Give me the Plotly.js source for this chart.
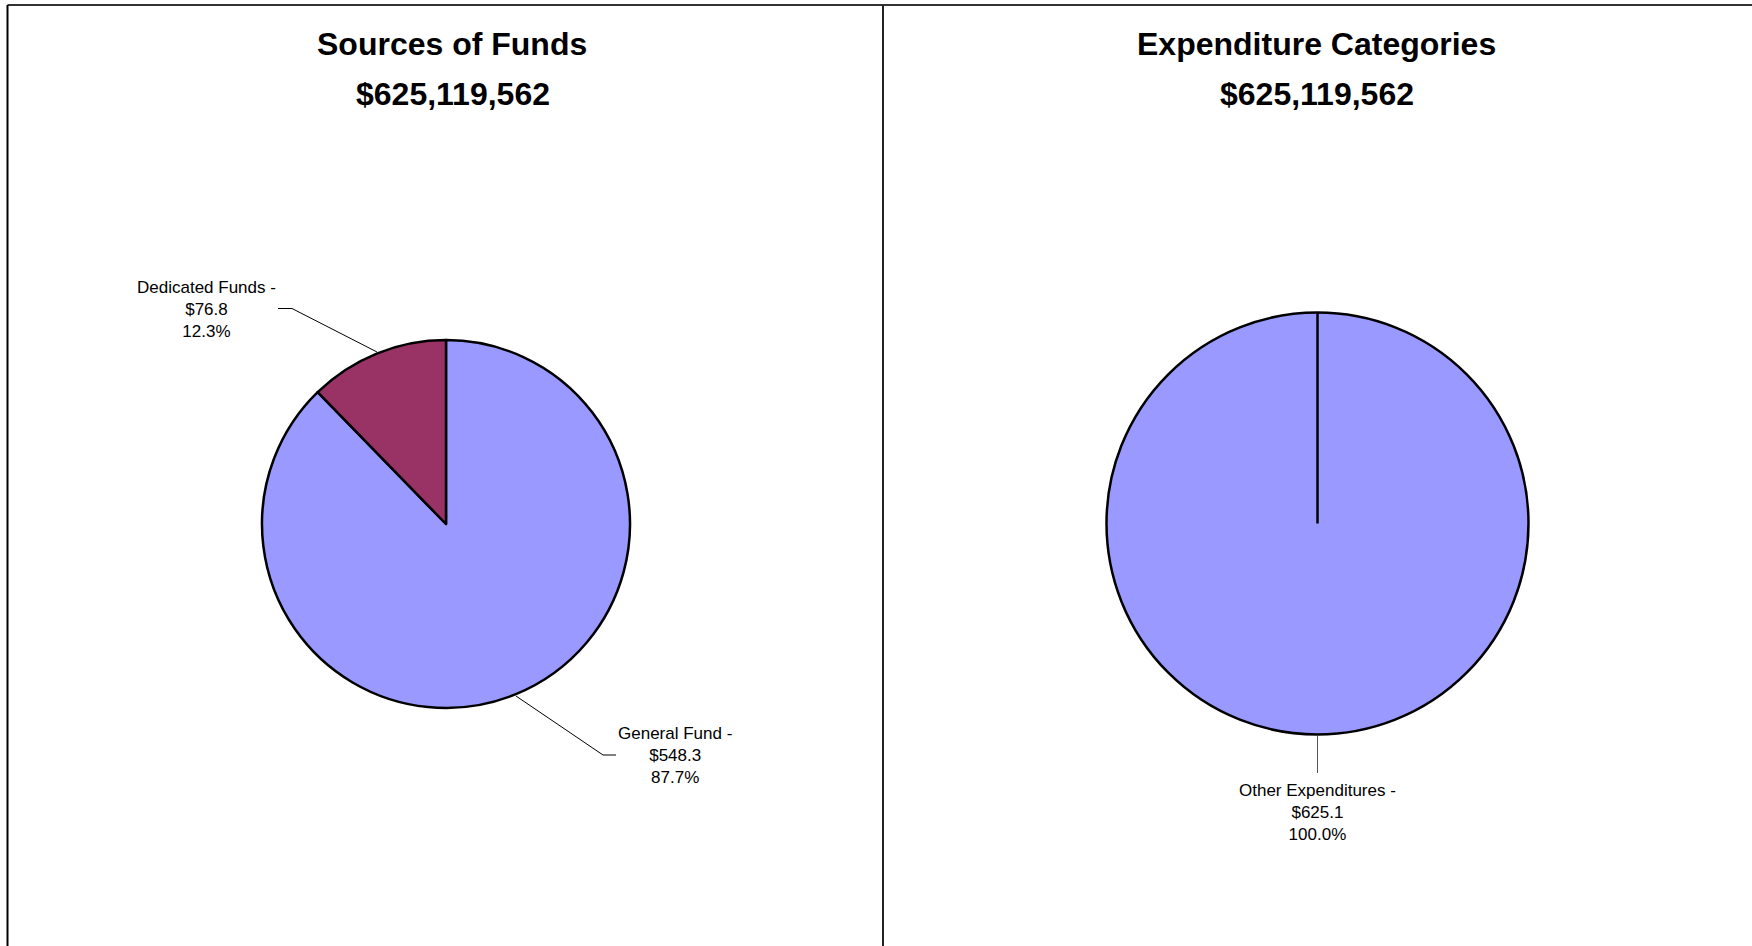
<!DOCTYPE html>
<html>
<head>
<meta charset="utf-8">
<script src="https://cdn.plot.ly/plotly-3.0.1.min.js"></script>
<style>html,body{margin:0;padding:0;background:#fff;}#chart{width:1752px;height:946px;}</style>
</head>
<body>
<div id="chart"></div>
<script>
// ---- data ----
const chartTitles = ["Sources of Funds", "Expenditure Categories"];
const chartTotals = [625119562, 625119562];
const sourceLabels = ["General Fund", "Dedicated Funds"];
const sourceValues = [548.3, 76.8];   // $ millions
const sourceColors = ["#9999FF", "#993366"];
const expLabels = ["Other Expenditures"];
const expValues = [625.1];            // $ millions
const expColors = ["#9999FF"];

// ---- helpers ----
const W = 1752, H = 946;
const px = x => x / W;
const py = y => 1 - y / H;
function labelText(labels, values, i) {
  const tot = values.reduce((a, b) => a + b, 0);
  return labels[i] + " -<br>$" + values[i].toFixed(1) + "<br>" + (100 * values[i] / tot).toFixed(1) + "%";
}
const fmtMoney = v => "$" + v.toLocaleString("en-US");

const pieLine = {color: "#000000", width: 2.5};
const traces = [
  {
    type: "pie", labels: sourceLabels, values: sourceValues,
    marker: {colors: sourceColors, line: pieLine},
    sort: false, direction: "clockwise", rotation: 0,
    textinfo: "none", hoverinfo: "skip", showlegend: false,
    domain: {x: [px(446 - 184), px(446 + 184)], y: [py(524 + 184), py(524 - 184)]}
  },
  {
    type: "pie", labels: expLabels, values: expValues,
    marker: {colors: expColors, line: pieLine},
    sort: false, direction: "clockwise", rotation: 0,
    textinfo: "none", hoverinfo: "skip", showlegend: false,
    domain: {x: [px(1317.5 - 211), px(1317.5 + 211)], y: [py(523.5 + 211), py(523.5 - 211)]}
  }
];

const titleFont = {family: "Liberation Sans, Arial, sans-serif", size: 32, color: "#000"};
const lblFont = {family: "Liberation Sans, Arial, sans-serif", size: 17, color: "#000"};
const ann = (x, y, text, font) => ({
  xref: "paper", yref: "paper", x: px(x), y: py(y), text: text,
  showarrow: false, xanchor: "center", yanchor: "middle", font: font, align: "center"
});

const annotations = [
  ann(452, 44, "<b>" + chartTitles[0] + "</b>", titleFont),
  ann(453, 94, "<b>" + fmtMoney(chartTotals[0]) + "</b>", titleFont),
  ann(1316, 44, "<b>" + chartTitles[1] + "</b>", titleFont),
  ann(1317, 94, "<b>" + fmtMoney(chartTotals[1]) + "</b>", titleFont),
  ann(206, 309, labelText(sourceLabels, sourceValues, 1), lblFont),
  ann(675, 755, labelText(sourceLabels, sourceValues, 0), lblFont),
  ann(1317, 812, labelText(expLabels, expValues, 0), lblFont)
];

const P = (x, y) => px(x).toFixed(5) + "," + py(y).toFixed(5);
const thin = {color: "#000000", width: 1};
const shapes = [
  // panel frame
  {type: "line", xref: "paper", yref: "paper", x0: px(7.5), x1: px(1752), y0: py(5), y1: py(5), line: {color: "#333", width: 2}},
  {type: "line", xref: "paper", yref: "paper", x0: px(7.5), x1: px(7.5), y0: py(5), y1: py(946), line: {color: "#000", width: 2}},
  {type: "line", xref: "paper", yref: "paper", x0: px(883), x1: px(883), y0: py(5), y1: py(946), line: {color: "#222", width: 2}},
  // leader lines
  {type: "path", xref: "paper", yref: "paper", path: "M" + P(377, 352) + " L" + P(292, 308.5) + " L" + P(278, 308.5), line: thin},
  {type: "path", xref: "paper", yref: "paper", path: "M" + P(516, 696) + " L" + P(603, 755) + " L" + P(616, 755), line: thin},
  {type: "line", xref: "paper", yref: "paper", x0: px(1317.5), x1: px(1317.5), y0: py(736), y1: py(773), line: {color: "#555", width: 1}},
  // radial boundary of the single slice
  {type: "line", xref: "paper", yref: "paper", x0: px(1317.5), x1: px(1317.5), y0: py(523.5), y1: py(312.5), line: {color: "#000", width: 2.5}}
];

const layout = {
  width: W, height: H,
  margin: {l: 0, r: 0, t: 0, b: 0},
  paper_bgcolor: "#ffffff", plot_bgcolor: "#ffffff",
  showlegend: false,
  annotations: annotations,
  shapes: shapes
};
Plotly.newPlot("chart", traces, layout, {displayModeBar: false, staticPlot: true});
</script>
</body>
</html>
